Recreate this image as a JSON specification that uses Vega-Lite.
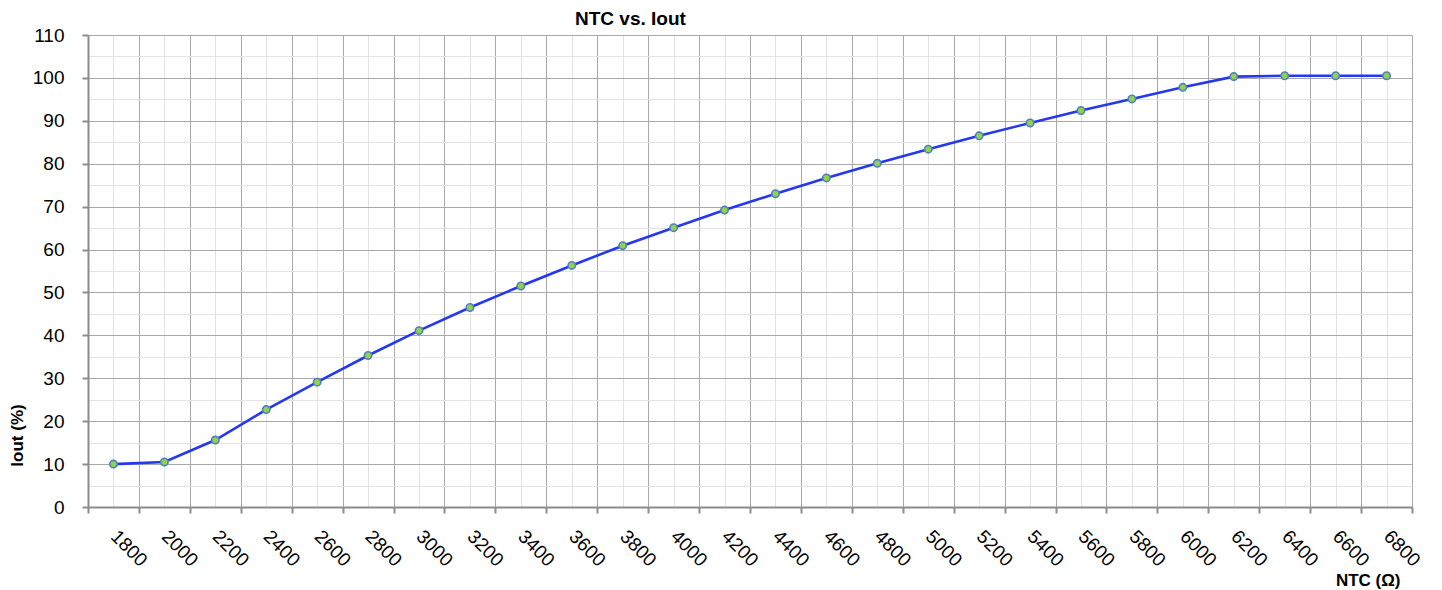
{
  "$schema": "https://vega.github.io/schema/vega-lite/v6.json",
  "width": 1324,
  "height": 472,
  "autosize": "none",
  "padding": {"left": 88, "top": 35, "right": 30, "bottom": 83},
  "background": "white",
  "config": {"view": {"stroke": null}},
  "title": {
    "text": "NTC vs. Iout",
    "anchor": "start",
    "frame": "group",
    "dx": 487,
    "dy": 12,
    "font": "Liberation Sans",
    "fontSize": 19,
    "fontWeight": "bold",
    "color": "#000000",
    "offset": 9
  },
  "data": {
    "values": [
      {"ntc": 1800, "iout": 10.0},
      {"ntc": 2000, "iout": 10.5},
      {"ntc": 2200, "iout": 15.6},
      {"ntc": 2400, "iout": 22.7},
      {"ntc": 2600, "iout": 29.1},
      {"ntc": 2800, "iout": 35.3},
      {"ntc": 3000, "iout": 41.1},
      {"ntc": 3200, "iout": 46.5},
      {"ntc": 3400, "iout": 51.5},
      {"ntc": 3600, "iout": 56.3},
      {"ntc": 3800, "iout": 60.9},
      {"ntc": 4000, "iout": 65.1},
      {"ntc": 4200, "iout": 69.2},
      {"ntc": 4400, "iout": 73.0},
      {"ntc": 4600, "iout": 76.7},
      {"ntc": 4800, "iout": 80.1},
      {"ntc": 5000, "iout": 83.4},
      {"ntc": 5200, "iout": 86.5},
      {"ntc": 5400, "iout": 89.5},
      {"ntc": 5600, "iout": 92.4},
      {"ntc": 5800, "iout": 95.1},
      {"ntc": 6000, "iout": 97.8},
      {"ntc": 6200, "iout": 100.3},
      {"ntc": 6400, "iout": 100.5},
      {"ntc": 6600, "iout": 100.5},
      {"ntc": 6800, "iout": 100.5}
    ]
  },
  "layer": [
    {
      "mark": {"type": "line", "color": "#2438F2", "strokeWidth": 2.6},
      "encoding": {
        "x": {
          "field": "ntc",
          "type": "quantitative",
          "scale": {"domain": [1700, 6900], "nice": false, "zero": false},
          "axis": {
            "orient": "bottom",
            "values": [1700, 1900, 2100, 2300, 2500, 2700, 2900, 3100, 3300, 3500, 3700, 3900, 4100, 4300, 4500, 4700, 4900, 5100, 5300, 5500, 5700, 5900, 6100, 6300, 6500, 6700, 6900],
            "labels": false,
            "title": null,
            "grid": true,
            "gridColor": "#A8A8A8",
            "gridWidth": 1,
            "ticks": true,
            "tickSize": 6,
            "tickWidth": 2,
            "tickColor": "#8C8C8C",
            "domain": true,
            "domainColor": "#8C8C8C",
            "domainWidth": 2
          }
        },
        "y": {
          "field": "iout",
          "type": "quantitative",
          "scale": {"domain": [0, 110], "nice": false},
          "axis": {
            "orient": "left",
            "values": [0, 10, 20, 30, 40, 50, 60, 70, 80, 90, 100, 110],
            "grid": true,
            "gridColor": "#A8A8A8",
            "gridWidth": 1,
            "ticks": true,
            "tickSize": 6,
            "tickWidth": 2,
            "tickColor": "#8C8C8C",
            "domain": true,
            "domainColor": "#8C8C8C",
            "domainWidth": 2,
            "labelFont": "Liberation Sans",
            "labelFontSize": 19,
            "labelColor": "#000000",
            "labelPadding": 18,
            "title": "Iout (%)",
            "titleFont": "Liberation Sans",
            "titleFontSize": 17,
            "titleFontWeight": "bold",
            "titleColor": "#000000",
            "titleAngle": 270,
            "titleX": -71,
            "titleY": 400,
            "titleAlign": "center",
            "titleBaseline": "middle"
          }
        }
      }
    },
    {
      "mark": {"type": "point", "filled": true, "fill": "#92D050", "stroke": "#4F81BD", "strokeWidth": 1.6, "size": 55, "opacity": 1},
      "encoding": {
        "x": {
          "field": "ntc",
          "type": "quantitative",
          "axis": {
            "orient": "bottom",
            "values": [1800, 2000, 2200, 2400, 2600, 2800, 3000, 3200, 3400, 3600, 3800, 4000, 4200, 4400, 4600, 4800, 5000, 5200, 5400, 5600, 5800, 6000, 6200, 6400, 6600, 6800],
            "format": "d",
            "grid": true,
            "gridColor": "#E3E3E3",
            "gridWidth": 1,
            "ticks": false,
            "tickSize": 0,
            "domain": false,
            "labelFont": "Liberation Sans",
            "labelFontSize": 19,
            "labelColor": "#000000",
            "labelAngle": 45,
            "labelAlign": "left",
            "labelBaseline": "middle",
            "labelPadding": 26,
            "labelDx": 1,
            "labelOverlap": false,
            "title": "NTC (Ω)",
            "titleFont": "Liberation Sans",
            "titleFontSize": 17,
            "titleFontWeight": "bold",
            "titleColor": "#000000",
            "titleX": 1312,
            "titleY": 73,
            "titleAlign": "right",
            "titleBaseline": "middle"
          }
        },
        "y": {
          "field": "iout",
          "type": "quantitative",
          "axis": {
            "orient": "left",
            "values": [5, 15, 25, 35, 45, 55, 65, 75, 85, 95, 105],
            "grid": true,
            "gridColor": "#E3E3E3",
            "gridWidth": 1,
            "labels": false,
            "ticks": false,
            "tickSize": 0,
            "domain": false,
            "title": null
          }
        }
      }
    }
  ],
  "resolve": {"axis": {"x": "independent", "y": "independent"}}
}
